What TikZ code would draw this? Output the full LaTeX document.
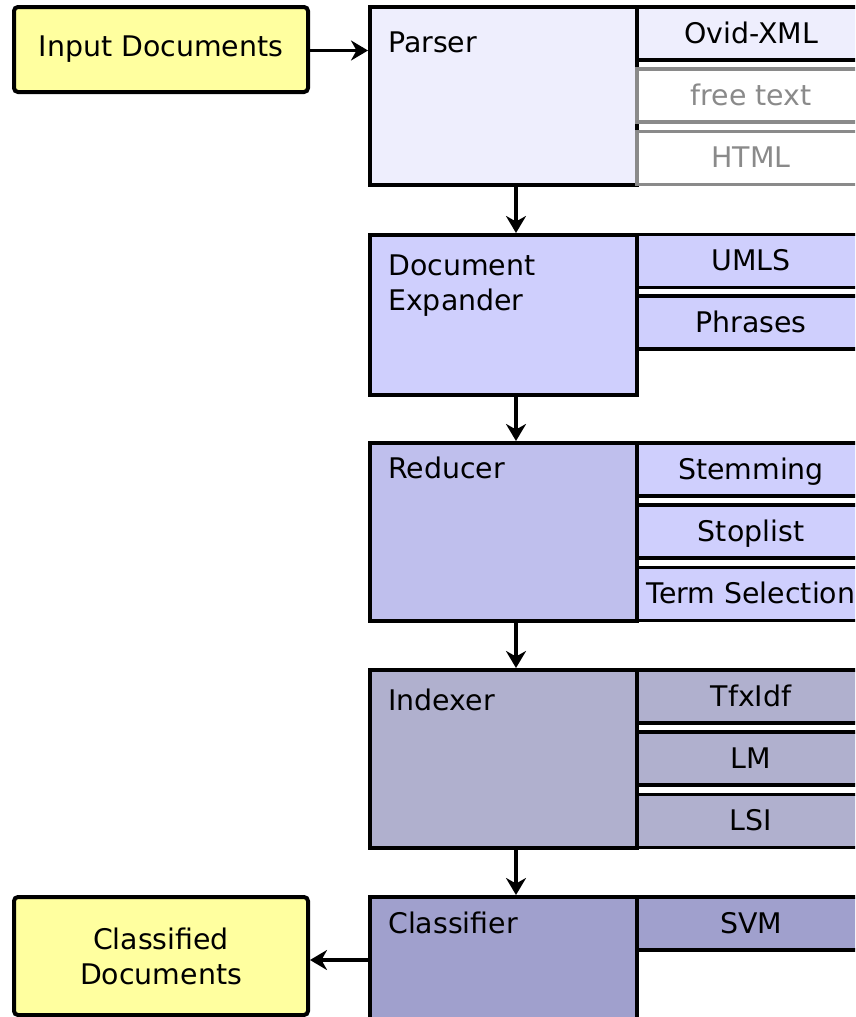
\documentclass[tikz,border=0pt]{standalone}
\usepackage{fontspec}
\setmainfont{DejaVu Sans}
\usetikzlibrary{arrows.meta}

\definecolor{docyellow}{HTML}{FFFF9F}
\definecolor{parsefill}{HTML}{EEEEFD}
\definecolor{expandfill}{HTML}{CFCFFD}
\definecolor{reducefill}{HTML}{BFBFED}
\definecolor{indexfill}{HTML}{B0B0CE}
\definecolor{classfill}{HTML}{A0A0CD}
\definecolor{optgrey}{HTML}{8A8A8A}

\tikzset{
  txt/.style={font=\fontsize{28.4}{35}\selectfont},
  docbox/.style={txt, draw, line width=4pt, rounded corners=4pt, fill=docyellow,
    minimum width=294, align=center, inner sep=0pt},
  stage/.style={draw, line width=4pt, minimum width=267, inner sep=0pt},
  stagelabel/.style={txt, anchor=base west, inner sep=0pt, align=left},
  option/.style={txt, draw, line width=3.8pt, minimum width=228, minimum height=53,
    text height=22pt, text depth=3pt, inner sep=0pt},
  greyoption/.style={option, draw=optgrey, text=optgrey, fill=white},
  flow/.style={-{Stealth[length=17pt, width=20pt, inset=5.5pt]}, line width=3.8pt},
}

\begin{document}
\begin{tikzpicture}[x=1pt, y=-1pt]
  \useasboundingbox (0,0) rectangle (855,1017);
  \clip (0,0) rectangle (855,1017);

  % input and output documents
  \node[docbox, minimum height=85] (input) at (161,49.5) {Input Documents};
  \node[docbox, minimum height=118] (output) at (161,956) {Classified\\Documents};

  % processing stages
  \node[stage, fill=parsefill,  minimum height=178] (parser)     at (503.5,96)    {};
  \node[stage, fill=expandfill, minimum height=160] (expander)   at (503.5,315)   {};
  \node[stage, fill=reducefill, minimum height=178] (reducer)    at (503.5,532)   {};
  \node[stage, fill=indexfill,  minimum height=178] (indexer)    at (503.5,759)   {};
  \node[stage, fill=classfill,  minimum height=133] (classifier) at (503.5,963.5) {};

  \node[stagelabel] (parser-l)     at (388,52)  {Parser};
  \node[stagelabel] (expander-l1)  at (388,275) {Document};
  \node[stagelabel] (expander-l2)  at (388,310) {Expander};
  \node[stagelabel] (reducer-l)    at (388,478) {Reducer};
  \node[stagelabel] (indexer-l)    at (388,710) {Indexer};
  \node[stagelabel] (classifier-l) at (388,933) {Classifier};

  % options of each stage
  \node[option, fill=parsefill] (ovid) at (751,33.5) {Ovid-XML};
  \node[greyoption] (freetext) at (751,95.5) {free text};
  \node[greyoption] (html)     at (751,158)  {HTML};

  \node[option, fill=expandfill] (umls)    at (751,261)   {UMLS};
  \node[option, fill=expandfill] (phrases) at (751,322.5) {Phrases};

  \node[option, fill=expandfill] (stemming) at (751,469.5) {Stemming};
  \node[option, fill=expandfill] (stoplist) at (751,531.5) {Stoplist};
  \node[option, fill=expandfill] (termsel)  at (751,594)   {Term Selection};

  \node[option, fill=indexfill] (tfidf) at (751,696.5) {TfxIdf};
  \node[option, fill=indexfill] (lm)    at (751,758.5) {LM};
  \node[option, fill=indexfill] (lsi)   at (751,821)   {LSI};

  \node[option, fill=classfill] (svm) at (751,923.5) {SVM};

  % data flow
  \coordinate (ax) at (516,0);
  \coordinate (iny) at (0,50.5);
  \coordinate (outy) at (0,960);
  \draw[flow] (input.east |- iny) -- (parser.west |- iny);
  \draw[flow] (parser.south -| ax)   -- (expander.north -| ax);
  \draw[flow] (expander.south -| ax) -- (reducer.north -| ax);
  \draw[flow] (reducer.south -| ax)  -- (indexer.north -| ax);
  \draw[flow] (indexer.south -| ax)  -- (classifier.north -| ax);
  \draw[flow] (classifier.west |- outy) -- (output.east |- outy);
\end{tikzpicture}
\end{document}
